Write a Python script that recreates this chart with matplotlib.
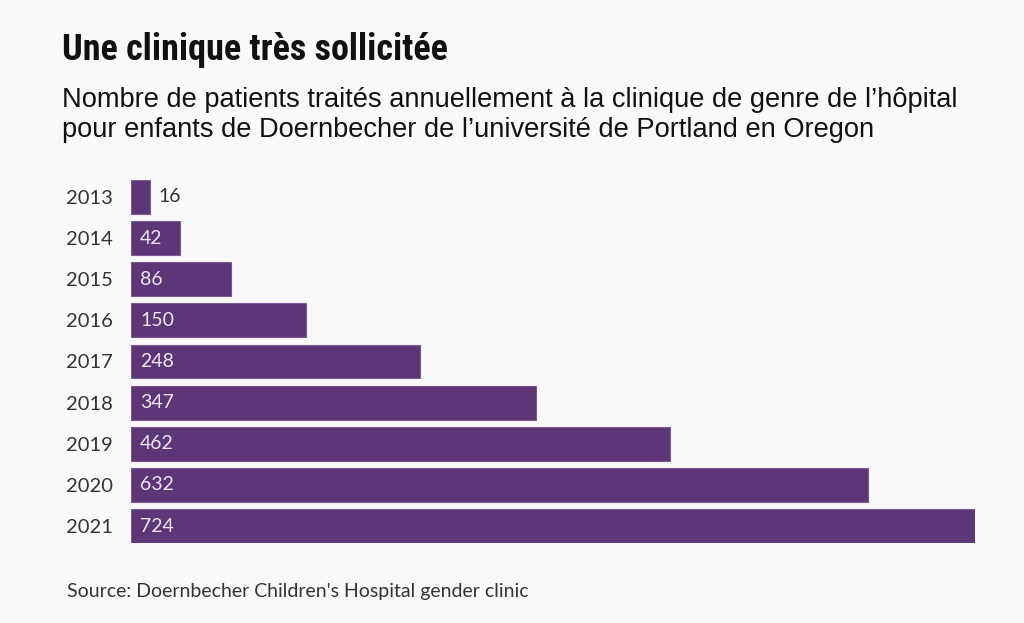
import matplotlib.pyplot as plt

years = ["2013", "2014", "2015", "2016", "2017", "2018", "2019", "2020", "2021"]
patients = [16, 42, 86, 150, 248, 347, 462, 632, 724]

W, H = 1024, 623
bg = "#f9f9fb"
bar_color = "#5c3677"

fig = plt.figure(figsize=(W / 100, H / 100), dpi=100, facecolor=bg)

# axes placed by pixel edges of the bars
left, right, top, bottom = 131, 975, 180, 543
ax = fig.add_axes([left / W, 1 - bottom / H, (right - left) / W, (bottom - top) / H])
ax.set_facecolor(bg)

pos = list(range(len(years)))
ax.barh(pos, patients, height=0.82, color=bar_color, edgecolor="#7b5896", linewidth=0.8)
ax.set_xlim(0, max(patients))
ax.set_ylim(len(years) - 1 + 0.41, -0.41)

for p, v in zip(pos, patients):
    if v < 30:
        ax.annotate(str(v), (v, p), xytext=(6, 0), textcoords="offset points",
                    va="center", ha="left", fontsize=14, color="#333333", family="Lato")
    else:
        ax.annotate(str(v), (0, p), xytext=(6.5, 0), textcoords="offset points",
                    va="center", ha="left", fontsize=14, color="#ece5f2", family="Lato")

ax.set_yticks(pos)
ax.set_yticklabels(years, fontsize=14.5, color="#333333", family="Lato")
ax.tick_params(axis="y", length=0, pad=13)
ax.set_xticks([])
for s in ax.spines.values():
    s.set_visible(False)

fig.text(62 / W, 1 - 60 / H, "Une clinique très sollicitée", fontsize=26, fontweight="heavy",
         family=["Roboto Condensed", "DejaVu Sans"], stretch="condensed", color="#111111", va="baseline")
fig.text(62 / W, 1 - 107 / H, "Nombre de patients traités annuellement à la clinique de genre de l’hôpital",
         fontsize=19.6, family="Liberation Sans", color="#111111", va="baseline")
fig.text(62 / W, 1 - 137 / H, "pour enfants de Doernbecher de l’université de Portland en Oregon",
         fontsize=19.6, family="Liberation Sans", color="#111111", va="baseline")
fig.text(67 / W, 1 - 597 / H, "Source: Doernbecher Children's Hospital gender clinic",
         fontsize=14, family="Lato", color="#333333", va="baseline")

fig.savefig("out.png", dpi=100, facecolor=bg)
